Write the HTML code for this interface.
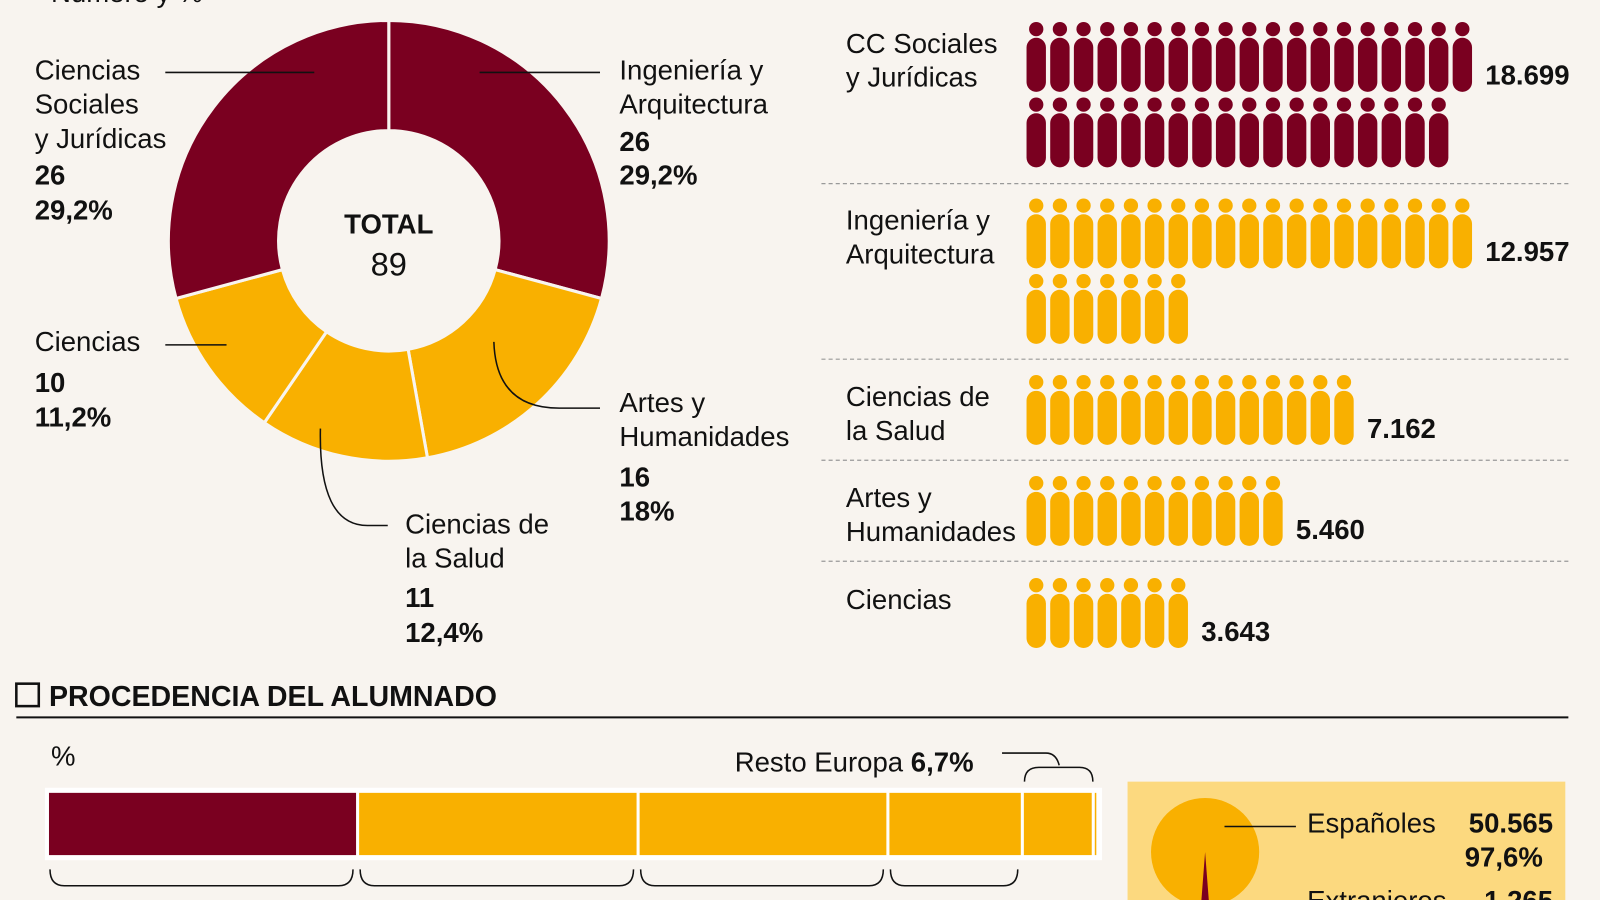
<!DOCTYPE html>
<html><head><meta charset="utf-8"><style>
html,body{margin:0;padding:0;background:#f8f4ef;}
svg{display:block;font-family:"Liberation Sans",sans-serif;}
.t{font-size:27px;fill:#111;}
.b{font-size:27px;font-weight:bold;fill:#111;}
</style></head><body>
<svg id="chart" width="1600" height="900" viewBox="0 0 1568 882" xmlns="http://www.w3.org/2000/svg">
<rect width="1568" height="882" fill="#f8f4ef"/>
<text x="50" y="2" class="t">Número y %</text>
<g id="donut"></g>
<text x="381" y="229" text-anchor="middle" class="b">TOTAL</text>
<text x="381" y="270" text-anchor="middle" style="font-size:32px;fill:#111">89</text>
<g stroke="#111" stroke-width="1.5" fill="none">
<line x1="162" y1="71" x2="308" y2="71"/><line x1="470" y1="71" x2="588" y2="71"/>
<line x1="162" y1="338" x2="222" y2="338"/>
<path d="M484 335 Q486 400 548 400 L588 400"/>
<path d="M314 420 Q312 515 360 515 L380 515"/>
</g>
<g>
<text class="t" x="34" y="78">Ciencias</text><text class="t" x="34" y="111">Sociales</text><text class="t" x="34" y="145">y Jurídicas</text>
<text class="b" x="34" y="181">26</text><text class="b" x="34" y="215">29,2%</text>
<text class="t" x="607" y="78">Ingeniería y</text><text class="t" x="607" y="111">Arquitectura</text>
<text class="b" x="607" y="148">26</text><text class="b" x="607" y="181">29,2%</text>
<text class="t" x="34" y="344">Ciencias</text><text class="b" x="34" y="384">10</text><text class="b" x="34" y="418">11,2%</text>
<text class="t" x="607" y="404">Artes y</text><text class="t" x="607" y="437">Humanidades</text>
<text class="b" x="607" y="477">16</text><text class="b" x="607" y="510">18%</text>
<text class="t" x="397" y="523">Ciencias de</text><text class="t" x="397" y="556">la Salud</text>
<text class="b" x="397" y="595">11</text><text class="b" x="397" y="629">12,4%</text>
</g>
<circle cx="1337" cy="-8" r="7" fill="#f9b000"/>
<g id="picto"></g>
<rect x="16" y="670" width="22" height="22" fill="none" stroke="#111" stroke-width="2.5"/>
<text x="48" y="692" class="b" style="font-size:28px">PROCEDENCIA DEL ALUMNADO</text>
<line x1="16" y1="703" x2="1537" y2="703" stroke="#111" stroke-width="2"/>
<text x="50" y="750" class="t">%</text>
<g id="stack"></g>
<text x="720" y="756" class="t">Resto Europa <tspan font-weight="bold">6,7%</tspan></text>
<path d="M982 738 L1025 738 Q1035 738 1038 750 M1004 766 Q1004 752 1018 752 L1058 752 Q1071 752 1071 766" fill="none" stroke="#111" stroke-width="1.5"/>
<g id="brackets" fill="none" stroke="#111" stroke-width="1.5"></g>
<rect x="1105" y="766" width="429" height="130" fill="#fcd97f"/>
<g id="pie"></g>
<line x1="1200" y1="810" x2="1270" y2="810" stroke="#111" stroke-width="1.5"/>
<text x="1281" y="816" class="t">Españoles</text>
<text x="1522" y="816" text-anchor="end" class="b">50.565</text>
<text x="1512" y="849" text-anchor="end" class="b">97,6%</text>
<text x="1281" y="892" class="t">Extranjeros</text>
<text x="1522" y="892" text-anchor="end" class="b">1.265</text>
</svg>
<script>
const donutCats=["Ingeniería y Arquitectura","Artes y Humanidades","Ciencias de la Salud","Ciencias","Ciencias Sociales y Jurídicas"];
const donutVals=[26,16,11,10,26];
const donutColors=["#7a0020","#f9b000","#f9b000","#f9b000","#7a0020"];
const pictoCats=["CC Sociales|y Jurídicas","Ingeniería y|Arquitectura","Ciencias de|la Salud","Artes y|Humanidades","Ciencias"];
const pictoVals=[18699,12957,7162,5460,3643];
const pictoLabels=["18.699","12.957","7.162","5.460","3.643"];
const stackVals=[29.3,26.5,23.6,12.7,6.7,0.3];
const stackColors=["#7a0020","#f9b000","#f9b000","#f9b000","#f9b000","#f9b000"];
const pieVals=[50565,1265];
const NS="http://www.w3.org/2000/svg";
function mk(t,a,p){const e=document.createElementNS(NS,t);for(const k in a)e.setAttribute(k,a[k]);p.appendChild(e);return e;}
(function(){
const g=document.getElementById('donut');const cx=381,cy=236,R=216,r=108;
const tot=donutVals.reduce((a,b)=>a+b,0);let a0=0;
donutVals.forEach((v,i)=>{const a1=a0+v/tot*2*Math.PI;
const p=(rad,a)=>[cx+rad*Math.sin(a),cy-rad*Math.cos(a)];
const [x1,y1]=p(R,a0),[x2,y2]=p(R,a1),[x3,y3]=p(r,a1),[x4,y4]=p(r,a0);const lg=(a1-a0)>Math.PI?1:0;
const e=mk('path',{d:`M${x1} ${y1}A${R} ${R} 0 ${lg} 1 ${x2} ${y2}L${x3} ${y3}A${r} ${r} 0 ${lg} 0 ${x4} ${y4}Z`,fill:donutColors[i],stroke:"#f8f4ef","stroke-width":3},g);


a0=a1;});
})();
(function(){
const g=document.getElementById('picto');const unit=500,perRow=19,dx=23.2,x0=1006;
const tops=[22,195,368,467,567],seps=[180,352,451,550];
seps.forEach(y=>{const l=mk('line',{x1:805,y1:y,x2:1540,y2:y,stroke:"#999","stroke-width":1.2,"stroke-dasharray":"4 3"},g);

});
pictoVals.forEach((v,i)=>{const n=Math.round(v/unit);const col=i==0?"#7a0020":"#f9b000";const top=tops[i];
const lines=pictoCats[i].split('|');
lines.forEach((s,j)=>{const t=mk('text',{x:829,y:top+30+j*33,class:'t'},g);t.textContent=s;

});
let lastX=0;
for(let k=0;k<n;k++){const row=Math.floor(k/perRow),c=k%perRow;const x=x0+c*dx,y=top+row*74;
const h=mk('circle',{cx:x+9.5,cy:y+6.5,r:7,fill:col},g);


const b=mk('rect',{x:x,y:y+15,width:19,height:53,rx:9.5,fill:col},g);


if(row==0)lastX=x+19;}
const t=mk('text',{x:lastX+13,y:top+61,class:'b'},g);t.textContent=pictoLabels[i];

});
})();
(function(){
const g=document.getElementById('stack'),bg=document.getElementById('brackets');
const x0=48,W=1028,tot=stackVals.reduce((a,b)=>a+b,0);let x=x0;
mk('rect',{x:44,y:772,width:1036,height:71,fill:"#fff"},g);
stackVals.forEach((v,i)=>{const w=v/tot*W;
const r=mk('rect',{x:x,y:777,width:Math.max(w-3,1.5),height:61,fill:stackColors[i]},g);


if(i<4){const a=x+1,b=x+w-6;const p=mk('path',{d:`M${a} 852 Q${a} 868 ${a+14} 868 L${b-14} 868 Q${b} 868 ${b} 852`},bg);

}
x+=w;});
})();
(function(){
const g=document.getElementById('pie');const cx=1181,cy=835,R=53;const tot=pieVals[0]+pieVals[1];
mk('circle',{cx,cy,r:R,fill:"#f9b000"},g);
const half=pieVals[1]/tot*Math.PI;const a0=Math.PI-half,a1=Math.PI+half;
const e=mk('path',{d:`M${cx} ${cy}L${cx+R*Math.sin(a0)} ${cy-R*Math.cos(a0)}A${R} ${R} 0 0 1 ${cx+R*Math.sin(a1)} ${cy-R*Math.cos(a1)}Z`,fill:"#7a0020"},g);


})();
</script>
</body></html>
